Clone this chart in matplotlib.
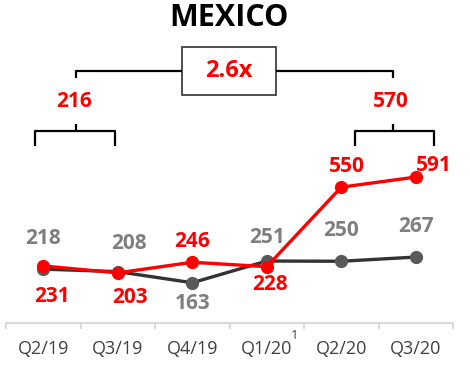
import matplotlib.pyplot as plt
from matplotlib.patches import Rectangle

quarters = ["Q2/19", "Q3/19", "Q4/19", "Q1/20", "Q2/20", "Q3/20"]
gray_vals = [218, 208, 163, 251, 250, 267]
red_vals = [231, 203, 246, 228, 550, 591]
before_avg = "216"
after_avg = "570"
growth = "2.6x"

# label offsets in points (dx, dy) relative to each point
gray_off = [(0, 22), (8, 20), (0, -15), (0, 17), (0, 22), (0, 22)]
red_off = [(6, -22), (9, -18), (0, 15), (2, -13), (4, 15), (13, 8)]

RED = "#FF0000"
DARK = "#333333"
MARK = "#595959"
GRAY_TXT = "#7F7F7F"

plt.rcParams["font.family"] = ["Open Sans", "DejaVu Sans"]

fig = plt.figure(figsize=(4.71, 3.68), dpi=100)
ax = fig.add_axes([6 / 471, 45 / 368, 447 / 471, 323 / 368])
x = list(range(len(quarters)))

ax.plot(x, gray_vals, color=DARK, lw=2.4, marker="o", ms=8.5,
        mfc=MARK, mec=MARK, zorder=2)
ax.plot(x, red_vals, color=RED, lw=2.4, marker="o", ms=8.5,
        mfc=RED, mec=RED, zorder=3)

for i, v in enumerate(gray_vals):
    ax.annotate(str(v), (i, v), xytext=gray_off[i], textcoords="offset points",
                ha="center", va="center", fontsize=15, fontweight="bold",
                color=GRAY_TXT)
for i, v in enumerate(red_vals):
    ax.annotate(str(v), (i, v), xytext=red_off[i], textcoords="offset points",
                ha="center", va="center", fontsize=15, fontweight="bold",
                color=RED)

ax.set_xlim(-0.5, len(quarters) - 0.5)
ax.set_ylim(0, 1308)
for s in ["top", "right", "left"]:
    ax.spines[s].set_visible(False)
ax.spines["bottom"].set_color("#D9D9D9")
ax.spines["bottom"].set_linewidth(1.5)
ax.set_yticks([])
ax.set_xticks([i - 0.5 for i in range(len(quarters) + 1)], minor=False)
ax.set_xticklabels([])
ax.tick_params(axis="x", which="major", length=4, width=1.5, color="#D9D9D9")
ax.set_xticks(x, minor=True)
ax.set_xticklabels(quarters, minor=True)
ax.tick_params(axis="x", which="minor", length=0, pad=12, labelsize=13,
               labelcolor="#404040")
ax.annotate("1", (3, 0), xytext=(20, -9), textcoords="offset points",
            ha="center", va="center", fontsize=9.5, color="#404040",
            annotation_clip=False)

# annotations in axes fraction vertically
tr = ax.get_xaxis_transform()
ax.text(2.49, 0.944, "MEXICO", transform=tr, ha="center", va="center",
        fontsize=22, fontweight="bold", color="black")

lx, rx = 0.44, 4.69
kw = dict(color="black", lw=1.6, transform=tr, clip_on=False, solid_capstyle="butt")
ax.plot([lx, lx, 1.86], [0.759, 0.780, 0.780], **kw)
ax.plot([3.12, rx, rx], [0.780, 0.780, 0.759], **kw)
ax.add_patch(Rectangle((1.86, 0.706), 1.26, 0.148, transform=tr, fill=False,
                       ec="#404040", lw=1.3, clip_on=False))
ax.text(2.49, 0.780, growth, transform=tr, ha="center", va="center",
        fontsize=17, fontweight="bold", color=RED)

ax.text(lx - 0.03, 0.687, before_avg, transform=tr, ha="center", va="center",
        fontsize=15, fontweight="bold", color=RED)
ax.text(rx - 0.02, 0.687, after_avg, transform=tr, ha="center", va="center",
        fontsize=15, fontweight="bold", color=RED)

for c, a, b in [(lx, -0.107, 0.963), (rx, 4.18, 5.24)]:
    ax.plot([c, c], [0.616, 0.594], **kw)
    ax.plot([a, a, b, b], [0.548, 0.594, 0.594, 0.548], **kw)

fig.savefig("out.png", dpi=100)
